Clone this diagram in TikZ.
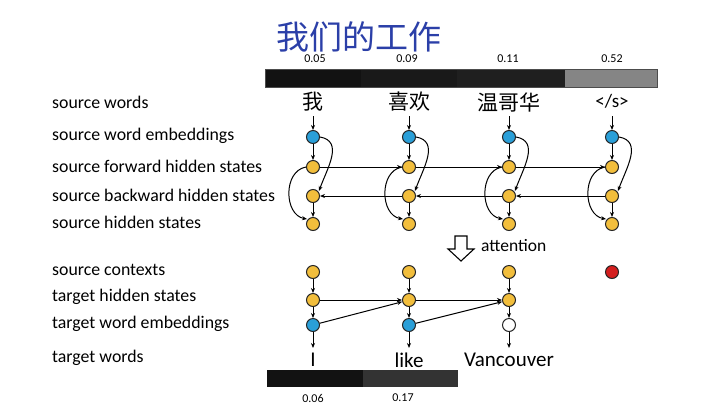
\documentclass[tikz,border=0pt]{standalone}
\usepackage{fontspec}
\setmainfont{Carlito}
\newfontfamily\cjk{Noto Sans CJK SC}
\usetikzlibrary{arrows.meta}
\definecolor{yel}{HTML}{F2BE3C}
\definecolor{blu}{HTML}{2A9FD8}
\definecolor{ttl}{HTML}{2B3FA8}
\definecolor{redc}{HTML}{D41E1E}
\begin{document}
\begin{tikzpicture}[x=1pt,y=-1pt,
  st/.style={circle,draw=black!85,line width=1pt,minimum size=13pt,inner sep=0pt,fill=yel},
  emb/.style={st,fill=blu},
  lbl/.style={anchor=west,font=\fontsize{17.8}{19}\selectfont,inner sep=0pt},
  num/.style={font=\fontsize{12}{13}\selectfont,inner sep=0pt},
  sw/.style={font=\cjk\fontsize{21}{23}\selectfont,inner sep=0pt},
  tw/.style={font=\fontsize{21}{23}\selectfont,inner sep=0pt},
  ar/.style={-{Stealth[length=5pt,width=4pt]},line width=1pt},
]
\useasboundingbox[fill=white] (0,0) rectangle (720,405);
% title
\node[font=\cjk\fontsize{33}{35}\selectfont,text=ttl,inner sep=0pt] (title) at (359,37) {我们的工作};
% top bar
\fill[black!93] (265,69) rectangle (361,87);
\fill[black!90] (361,69) rectangle (457,87);
\fill[black!88] (457,69) rectangle (565,87);
\fill[black!48] (565,69) rectangle (657,87);
\draw[black!70,line width=0.6pt] (265,69) rectangle (657,87);
\node[num] (n1) at (315,59) {0.05};
\node[num] (n2) at (407,59) {0.09};
\node[num] (n3) at (508,59) {0.11};
\node[num] (n4) at (612,59) {0.52};
% bottom bar
\fill[black!93] (267,370) rectangle (363,387);
\fill[black!80] (363,370) rectangle (458,387);
\node[num] (m1) at (313,398) {0.06};
\node[num] (m2) at (403,398) {0.17};
% left labels
\node[lbl] (l1) at (52,102) {source words};
\node[lbl] (l2) at (52,136) {source word embeddings};
\node[lbl] (l3) at (52,166) {source forward hidden states};
\node[lbl] (l4) at (52,195) {source backward hidden states};
\node[lbl] (l5) at (52,222) {source hidden states};
\node[lbl] (l6) at (52,270) {source contexts};
\node[lbl] (l7) at (52,297) {target hidden states};
\node[lbl] (l8) at (52,324) {target word embeddings};
\node[lbl] (l9) at (52,358) {target words};
% source words
\node[sw] (w1) at (313,102) {我};
\node[sw] (w2) at (409,102) {喜欢};
\node[sw] (w3) at (509,102) {温哥华};
\node[tw,font=\fontsize{19}{21}\selectfont] (w4) at (612,101) {</s>};
% source nodes
\foreach \i/\x in {1/313,2/409,3/509,4/612}{
  \node[emb] (e\i) at (\x,137) {};
  \node[st] (f\i) at (\x,167) {};
  \node[st] (b\i) at (\x,196) {};
  \node[st] (h\i) at (\x,224) {};
  \coordinate (wt\i) at (\x,116);
  \draw[ar] (wt\i) -- (e\i);
  \draw[ar] (e\i) -- (f\i);
  \draw[ar] (b\i) -- (h\i);
  \draw[ar] (e\i.east) to[out=-10,in=70,looseness=1.15] ([xshift=1pt]b\i.north east);
  \draw[ar] (f\i.west) to[out=190,in=170,looseness=1.15] ([xshift=-1pt]h\i.north west);
}
\draw[ar] (f1) -- (f2);
\draw[ar] (f2) -- (f3);
\draw[ar] (f3) -- (f4);
\draw[ar] (b4) -- (b3);
\draw[ar] (b3) -- (b2);
\draw[ar] (b2) -- (b1);
% attention arrow
\draw[line width=1.1pt,fill=white] (455,236) -- (467,236) -- (467,249) -- (474,249) -- (461,261) -- (448,249) -- (455,249) -- cycle;
\node[font=\fontsize{17.5}{19}\selectfont,inner sep=0pt,anchor=west] (att) at (481,246) {attention};
% target
\node[st] (c1) at (313,272) {};
\node[st] (c2) at (409,272) {};
\node[st] (c3) at (509,272) {};
\node[st,fill=redc] (c4) at (612,272) {};
\node[st] (t1) at (313,300) {};
\node[st] (t2) at (409,300) {};
\node[st] (t3) at (509,300) {};
\node[emb] (te1) at (313,325) {};
\node[emb] (te2) at (409,325) {};
\node[st,fill=white] (te3) at (509,325) {};
\node[tw] (tw1) at (313,360) {I};
\node[tw] (tw2) at (409,360) {like};
\node[tw] (tw3) at (509,360) {Vancouver};
\foreach \i/\x in {1/313,2/409,3/509}{
  \coordinate (ta\i) at (\x,348);
  \draw[ar] (c\i) -- (t\i);
  \draw[ar] (t\i) -- (te\i);
  \draw[ar] (te\i) -- (ta\i);
}
\draw[ar] (t1) -- (t2);
\draw[ar] (t2) -- (t3);
\draw[ar] (te1) -- (t2);
\draw[ar] (te2) -- (t3);
\end{tikzpicture}
\end{document}
